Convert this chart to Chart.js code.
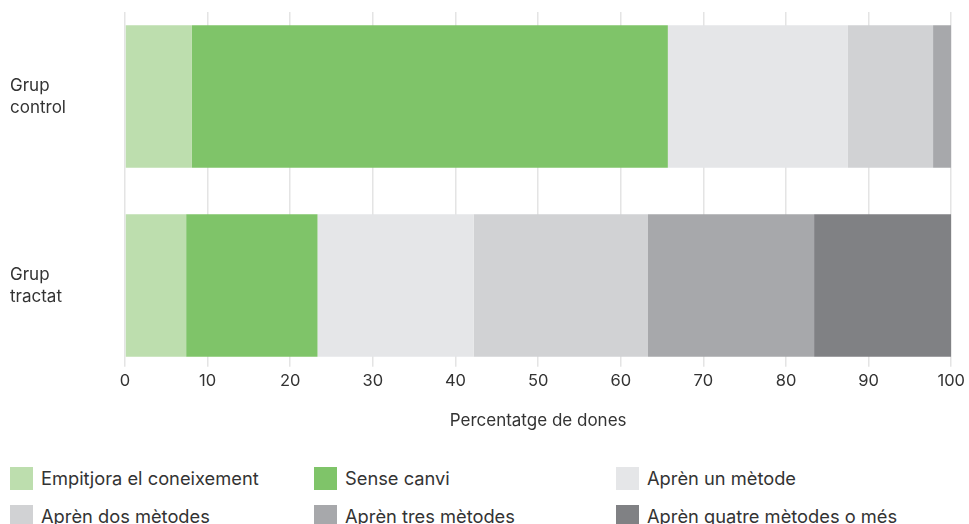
<!DOCTYPE html>
<html>
<head>
<meta charset="utf-8">
<script src="https://cdn.jsdelivr.net/npm/chart.js@4/dist/chart.umd.min.js"></script>
<style>
  html, body { margin: 0; padding: 0; background: #fff; }
  #wrap { position: relative; width: 969px; height: 524px; overflow: hidden; }
  #chart { position: absolute; left: 0; top: 0; }
  #legend { position: absolute; left: 0; top: 466px; width: 969px; }
  .lg { position: absolute; display: flex; align-items: center; height: 24px;
        font-family: Inter, "Noto Sans", sans-serif;
        font-size: 18.3px; color: #333; white-space: nowrap; }
  .lg span.sw { display: inline-block; width: 23px; height: 23px; margin-right: 8px; }
</style>
</head>
<body>
<div id="wrap">
  <canvas id="chart" width="969" height="435"></canvas>
  <div id="legend"></div>
</div>
<script>
// grups (eix vertical) i categories de resultat
const groups = [['Grup', 'control'], ['Grup', 'tractat']];
const outcomes = [
  'Empitjora el coneixement',
  'Sense canvi',
  'Aprèn un mètode',
  'Aprèn dos mètodes',
  'Aprèn tres mètodes',
  'Aprèn quatre mètodes o més'
];
const colors = ['#bddeae', '#7fc469', '#e5e6e8', '#d1d2d4', '#a7a8ab', '#808184'];

// percentatges per categoria: [control, tractat]
const empitjora = [8.1, 7.4];
const senseCanvi = [57.6, 15.9];
const unMetode = [21.8, 18.9];
const dosMetodes = [10.3, 21.1];
const tresMetodes = [2.2, 20.1];
const quatreMetodes = [0, 16.6];

const xTicks = [0, 10, 20, 30, 40, 50, 60, 70, 80, 90, 100];
const xTitle = 'Percentatge de dones';

const series = [empitjora, senseCanvi, unMetode, dosMetodes, tresMetodes, quatreMetodes];

const datasets = series.map((vals, i) => ({
  label: outcomes[i],
  data: vals.map((v, g) => ({ x: v, y: g })),
  backgroundColor: colors[i],
  borderWidth: 0,
  categoryPercentage: 1,
  barPercentage: 0.755
}));

const FONT = 'Inter, "Noto Sans", sans-serif';

const chart = new Chart(document.getElementById('chart'), {
  type: 'bar',
  data: { datasets },
  options: {
    indexAxis: 'y',
    responsive: false,
    animation: false,
    layout: { padding: { top: 12, left: 10, right: 17, bottom: 0 } },
    plugins: { legend: { display: false }, tooltip: { enabled: false } },
    scales: {
      x: {
        type: 'linear',
        stacked: true,
        min: 0,
        max: 100,
        afterBuildTicks: s => { s.ticks = xTicks.map(v => ({ value: v })); },
        grid: { color: '#e4e4e4', lineWidth: 1.5, tickLength: 8, drawTicks: true },
        border: { display: false },
        ticks: { color: '#333', font: { family: FONT, size: 16.5 }, padding: 4 },
        title: { display: true, text: xTitle, color: '#333',
                 font: { family: FONT, size: 17 }, padding: { top: 16 } }
      },
      y: {
        type: 'linear',
        stacked: true,
        reverse: true,
        offset: false,
        min: -0.447,
        max: 1.388,
        afterBuildTicks: s => { s.ticks = [{ value: 0 }, { value: 1 }]; },
        afterFit: s => { s.width = 115; s.paddingTop = 0; s.paddingBottom = 0; },
        grid: { display: false, offset: false },
        border: { display: false },
        ticks: {
          color: '#333',
          crossAlign: 'far',
          font: { family: FONT, size: 17, lineHeight: 1.3 },
          callback: v => groups[v]
        }
      }
    }
  }
});

// llegenda en tres columnes
const legendX = [10, 314, 616];
const legendY = [0, 38];
const legend = document.getElementById('legend');
outcomes.forEach((name, i) => {
  const el = document.createElement('div');
  el.className = 'lg';
  el.style.left = legendX[i % 3] + 'px';
  el.style.top = legendY[Math.floor(i / 3)] + 'px';
  el.innerHTML = `<span class="sw" style="background:${colors[i]}"></span>${name}`;
  legend.appendChild(el);
});
</script>
</body>
</html>
